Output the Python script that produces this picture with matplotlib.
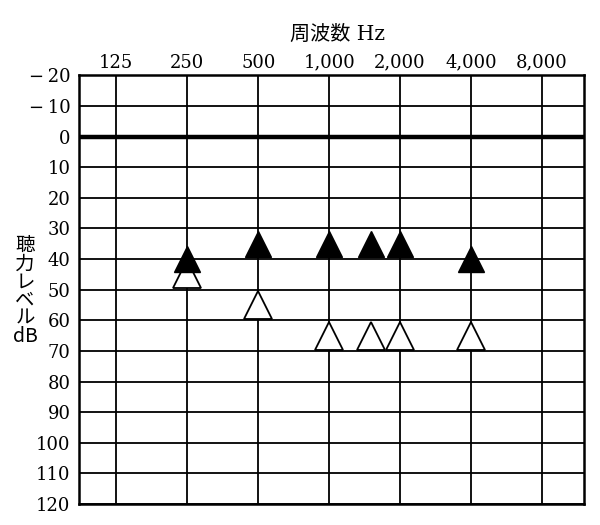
import matplotlib
matplotlib.use("Agg")
import matplotlib.pyplot as plt
import numpy as np

# audiogram data
freq_ticks = [125, 250, 500, 1000, 2000, 4000, 8000]
freq_labels = ["125", "250", "500", "1,000", "2,000", "4,000", "8,000"]
db_ticks = [-20, -10, 0, 10, 20, 30, 40, 50, 60, 70, 80, 90, 100, 110, 120]
db_labels = ["\u2212\u200920", "\u2212\u200910"] + [str(v) for v in db_ticks[2:]]

filled_freq = [250, 500, 1000, 1500, 2000, 4000]
filled_db = [40, 35, 35, 35, 35, 40]
open_freq = [250, 500, 1000, 1500, 2000, 4000]
open_db = [45, 55, 65, 65, 65, 65]

serif = ["DejaVu Serif", "Noto Sans CJK JP"]
jp = ["Noto Sans CJK JP", "DejaVu Serif"]

fig = plt.figure(figsize=(6, 5.25), dpi=100)
ax = fig.add_axes([0.1313, 0.04, 0.8412, 0.8166])

ax.set_xscale("log", base=2)
ax.set_xlim(86.6, 12000)
ax.set_ylim(120, -20)

# grid
for f in freq_ticks:
    ax.axvline(f, color="black", lw=1.3, zorder=1)
for d in db_ticks:
    ax.axhline(d, color="black", lw=3.2 if d == 0 else 1.3, zorder=1)

ax.plot(open_freq, open_db, linestyle="none", marker="^", ms=20,
        mfc="white", mec="black", mew=1.3, zorder=3)
ax.plot(filled_freq, filled_db, linestyle="none", marker="^", ms=19,
        mfc="black", mec="black", mew=1.0, zorder=4)

ax.xaxis.set_ticks_position("top")
ax.set_xticks(freq_ticks)
ax.set_xticklabels(freq_labels, family=serif, fontsize=13)
ax.xaxis.set_minor_locator(matplotlib.ticker.NullLocator())
ax.set_yticks(db_ticks)
ax.set_yticklabels(db_labels, family=serif, fontsize=13)
ax.tick_params(axis="both", length=0)
ax.tick_params(axis="x", pad=2.5)
ax.tick_params(axis="y", pad=6)

for s in ax.spines.values():
    s.set_linewidth(1.8)

fig.text(337 / 600, 1 - 34 / 525, "周波数 Hz", family=serif, fontsize=14.5,
         ha="center", va="center")
fig.text(25 / 600, 1 - 291 / 525, "聴\n力\nレ\nベ\nル\ndB", family=jp,
         fontsize=14, ha="center", va="center", linespacing=0.82)

fig.savefig("out.png", dpi=100, facecolor="white")
